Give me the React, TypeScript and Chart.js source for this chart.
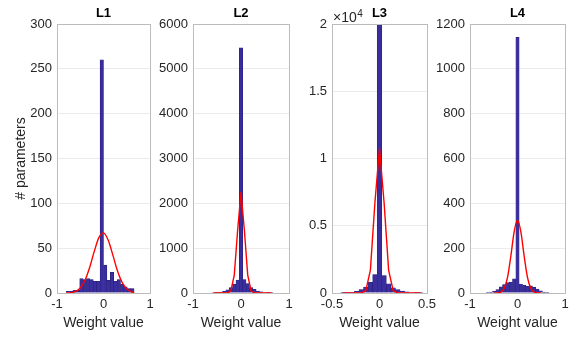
import React, { useEffect, useRef } from "react";
import { Chart, registerables } from "chart.js";

Chart.register(...registerables);

// ---------------- data ----------------
const PANEL_TITLES = ["L1", "L2", "L3", "L4"];

const L1_BIN_CENTERS = [-0.767, -0.694, -0.621, -0.548, -0.475, -0.402, -0.329, -0.256, -0.183, -0.11, -0.037, 0.037, 0.11, 0.183, 0.256, 0.329, 0.402, 0.475, 0.548, 0.621];
const L1_COUNTS = [2, 2, 3, 3, 16, 15, 16, 15, 13, 13, 260, 31, 14, 23, 13, 15, 10, 7, 5, 5];
const L1_FIT_X = [-0.8, -0.7, -0.6, -0.5, -0.4, -0.3, -0.2, -0.1, 0, 0.1, 0.2, 0.3, 0.4, 0.5, 0.6, 0.66];
const L1_FIT_Y = [0.1, 0.4, 1.8, 5.6, 13.9, 28.1, 46.1, 61.7, 67, 59.1, 42.5, 24.8, 11.8, 4.6, 1.4, 0.6];

const L2_BIN_CENTERS = [-0.56, -0.49, -0.42, -0.35, -0.28, -0.21, -0.14, -0.07, 0, 0.07, 0.14, 0.21, 0.28, 0.35, 0.42, 0.49, 0.56, 0.63];
const L2_COUNTS = [2, 6, 15, 35, 70, 120, 200, 290, 5470, 300, 210, 120, 80, 45, 25, 12, 6, 2];
const L2_FIT_X = [-0.56, -0.28, -0.21, -0.14, -0.07, 0, 0.07, 0.14, 0.21, 0.28, 0.63];
const L2_FIT_Y = [0, 3, 50, 400, 1400, 2250, 1400, 400, 50, 3, 0];

const L3_BIN_CENTERS = [-0.384, -0.336, -0.288, -0.24, -0.192, -0.144, -0.096, -0.048, 0, 0.048, 0.096, 0.144, 0.192, 0.24, 0.288, 0.336, 0.384, 0.432];
const L3_COUNTS = [8, 20, 50, 120, 260, 440, 800, 1370, 25000, 1300, 680, 380, 250, 150, 80, 40, 15, 5];
const L3_FIT_X = [-0.384, -0.24, -0.192, -0.144, -0.096, -0.048, 0, 0.048, 0.096, 0.144, 0.192, 0.24, 0.432];
const L3_FIT_Y = [0, 0, 7, 170, 1700, 6750, 10750, 6750, 1700, 170, 7, 0, 0];

const L4_BIN_CENTERS = [-0.63, -0.56, -0.49, -0.42, -0.35, -0.28, -0.21, -0.14, -0.07, 0, 0.07, 0.14, 0.21, 0.28, 0.35, 0.42, 0.49, 0.56, 0.63];
const L4_COUNTS = [2, 4, 8, 15, 28, 38, 46, 49, 63, 1140, 40, 35, 30, 32, 25, 18, 10, 4, 2];
const L4_FIT_X = [-0.49, -0.42, -0.35, -0.28, -0.21, -0.14, -0.07, 0, 0.07, 0.14, 0.21, 0.28, 0.35, 0.42, 0.49];
const L4_FIT_Y = [0, 0.7, 4.6, 21, 70, 165, 274, 325, 274, 165, 70, 21, 4.6, 0.7, 0];

// axis ranges and tick labels
const L1_X_RANGE = [-1, 1, 1];
const L2_X_RANGE = [-1, 1, 1];
const L3_X_RANGE = [-0.5, 0.5, 0.5];
const L4_X_RANGE = [-1, 1, 1];

const L1_Y_RANGE = [0, 300, 50];
const L2_Y_RANGE = [0, 6000, 1000];
const L3_Y_RANGE = [0, 20000, 5000];
const L4_Y_RANGE = [0, 1200, 200];

const L1_Y_TICK_LABELS = ["0", "50", "100", "150", "200", "250", "300"];
const L2_Y_TICK_LABELS = ["0", "1000", "2000", "3000", "4000", "5000", "6000"];
const L3_Y_TICK_LABELS = ["0", "0.5", "1", "1.5", "2"];
const L4_Y_TICK_LABELS = ["0", "200", "400", "600", "800", "1000", "1200"];

const X_AXIS_LABEL = "Weight value";
const Y_AXIS_LABEL = "# parameters";

// ---------------- styling / layout ----------------
const W = 582;
const H = 337;
const FONT = "'Liberation Sans', Arial, Helvetica, sans-serif";
const TEXT = "#262626";
const BAR_FILL = "#3a2e9f";
const BAR_EDGE = "#2a2178";
const BOX = "#bcbcbc";
const GRID = "#ebebeb";
const Y_W = 50;

type PanelCfg = {
  title: string;
  centers: number[];
  counts: number[];
  fitX: number[];
  fitY: number[];
  xr: number[];
  yr: number[];
  yLabels: string[];
  smooth: boolean;
  left: number;
  right: number;
  yTitle?: boolean;
  exponent?: string;
};

const PANELS: PanelCfg[] = [
  { title: PANEL_TITLES[0], centers: L1_BIN_CENTERS, counts: L1_COUNTS, fitX: L1_FIT_X, fitY: L1_FIT_Y, xr: L1_X_RANGE, yr: L1_Y_RANGE, yLabels: L1_Y_TICK_LABELS, smooth: true, left: 57, right: 150, yTitle: true },
  { title: PANEL_TITLES[1], centers: L2_BIN_CENTERS, counts: L2_COUNTS, fitX: L2_FIT_X, fitY: L2_FIT_Y, xr: L2_X_RANGE, yr: L2_Y_RANGE, yLabels: L2_Y_TICK_LABELS, smooth: false, left: 193, right: 289 },
  { title: PANEL_TITLES[2], centers: L3_BIN_CENTERS, counts: L3_COUNTS, fitX: L3_FIT_X, fitY: L3_FIT_Y, xr: L3_X_RANGE, yr: L3_Y_RANGE, yLabels: L3_Y_TICK_LABELS, smooth: false, left: 332, right: 427, exponent: "4" },
  { title: PANEL_TITLES[3], centers: L4_BIN_CENTERS, counts: L4_COUNTS, fitX: L4_FIT_X, fitY: L4_FIT_Y, xr: L4_X_RANGE, yr: L4_Y_RANGE, yLabels: L4_Y_TICK_LABELS, smooth: true, left: 470, right: 565 },
];

const axesBoxPlugin = {
  id: "axesBox",
  afterDraw(chart: any, _args: any, opts: any) {
    const { ctx, chartArea } = chart;
    const l = Math.round(chartArea.left);
    const r = Math.round(chartArea.right);
    const t = Math.round(chartArea.top);
    const b = Math.round(chartArea.bottom);
    ctx.save();
    ctx.strokeStyle = BOX;
    ctx.lineWidth = 1;
    ctx.strokeRect(l + 0.5, t + 0.5, r - l, b - t);
    if (opts && opts.exponent) {
      ctx.fillStyle = TEXT;
      ctx.textBaseline = "alphabetic";
      ctx.textAlign = "left";
      ctx.font = `14px ${FONT}`;
      const base = "\u00d710";
      ctx.fillText(base, l + 1, t - 2.5);
      const w = ctx.measureText(base).width;
      ctx.font = `10px ${FONT}`;
      ctx.fillText(opts.exponent, l + 1 + w + 0.5, t - 7.5);
    }
    ctx.restore();
  },
};

function Panel({ cfg }: { cfg: PanelCfg }) {
  const ref = useRef<HTMLCanvasElement | null>(null);
  useEffect(() => {
    if (!ref.current) return;
    const bars = cfg.centers.map((x, i) => ({ x, y: cfg.counts[i] }));
    const fit = cfg.fitX.map((x, i) => ({ x, y: cfg.fitY[i] }));
    const chart = new Chart(ref.current, {
      type: "bar",
      data: {
        datasets: [
          {
            type: "line",
            data: fit,
            borderColor: "#ff0000",
            borderWidth: 1.4,
            pointRadius: 0,
            fill: false,
            tension: 0,
            cubicInterpolationMode: cfg.smooth ? "monotone" : "default",
            order: 0,
          } as any,
          {
            type: "bar",
            data: bars,
            backgroundColor: BAR_FILL,
            borderColor: BAR_EDGE,
            borderWidth: 0.6,
            barPercentage: 1,
            categoryPercentage: 1,
            order: 1,
          } as any,
        ],
      },
      options: {
        animation: false,
        responsive: false,
        maintainAspectRatio: false,
        events: [],
        layout: {
          padding: { left: cfg.left - Y_W, right: W - cfg.right, top: 0, bottom: 0 },
        },
        plugins: {
          legend: { display: false },
          tooltip: { enabled: false },
          title: {
            display: true,
            text: cfg.title,
            fullSize: false,
            color: "#000000",
            font: { family: FONT, size: 13, weight: "bold" },
            padding: { top: 5.2, bottom: 3.2 },
          },
          axesBox: { exponent: cfg.exponent },
        } as any,
        scales: {
          x: {
            type: "linear",
            min: cfg.xr[0],
            max: cfg.xr[1],
            offset: false,
            grid: { display: false, drawTicks: false },
            border: { display: false },
            ticks: {
              stepSize: cfg.xr[2],
              autoSkip: false,
              maxRotation: 0,
              padding: 4,
              color: TEXT,
              font: { family: FONT, size: 13 },
              callback: (v: any) => String(Math.round(Number(v) * 100) / 100),
            },
            title: {
              display: true,
              text: X_AXIS_LABEL,
              color: TEXT,
              font: { family: FONT, size: 14 },
              padding: { top: 0, bottom: 5.9 },
            },
            afterFit: (s: any) => {
              s.height = 44;
            },
          },
          y: {
            type: "linear",
            min: cfg.yr[0],
            max: cfg.yr[1],
            grid: { color: GRID, drawTicks: false, lineWidth: 1 },
            border: { display: false },
            ticks: {
              stepSize: cfg.yr[2],
              autoSkip: false,
              padding: 5,
              color: TEXT,
              font: { family: FONT, size: 13 },
              callback: (_v: any, i: number) => cfg.yLabels[i],
            },
            title: {
              display: !!cfg.yTitle,
              text: Y_AXIS_LABEL,
              color: TEXT,
              font: { family: FONT, size: 14 },
              padding: { top: 5.6, bottom: 0 },
            },
            afterFit: (s: any) => {
              s.width = Y_W;
            },
          },
        },
      } as any,
      plugins: [axesBoxPlugin],
    });
    return () => chart.destroy();
  }, [cfg]);
  return (
    <canvas
      ref={ref}
      width={W}
      height={H}
      style={{ position: "absolute", left: 0, top: 0, width: W, height: H }}
    />
  );
}

export default function App() {
  return (
    <div
      style={{
        position: "absolute",
        left: 0,
        top: 0,
        width: W,
        height: H,
        background: "#ffffff",
        overflow: "hidden",
      }}
    >
      {PANELS.map((p) => (
        <Panel key={p.title} cfg={p} />
      ))}
    </div>
  );
}
